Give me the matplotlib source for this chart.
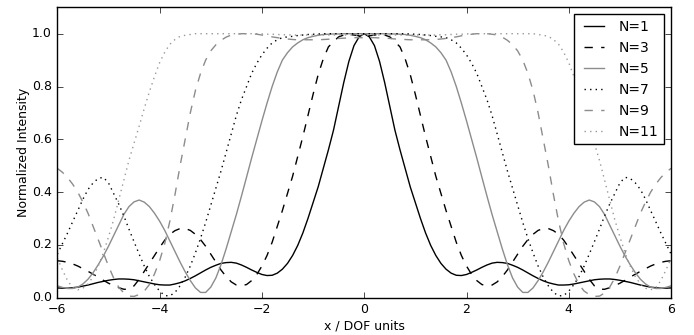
import numpy as np
import matplotlib
matplotlib.use("Agg")
import matplotlib.pyplot as plt

# Half profiles (curves are symmetric about x = 0),
# sampled every 0.1 DOF unit from 0 to 6
x_half = np.linspace(0.0, 6.0, 61)

n1 = [1.0, 0.988, 0.955, 0.895, 0.815, 0.725, 0.635, 0.56, 0.49, 0.42,
      0.36, 0.30, 0.245, 0.198, 0.16, 0.13, 0.108, 0.093, 0.085, 0.084,
      0.088, 0.096, 0.105, 0.115, 0.124, 0.131, 0.134, 0.133, 0.13, 0.123,
      0.115, 0.105, 0.094, 0.083, 0.073, 0.064, 0.057, 0.052, 0.048, 0.048,
      0.049, 0.052, 0.056, 0.06, 0.064, 0.068, 0.07, 0.071, 0.071, 0.069,
      0.066, 0.062, 0.058, 0.053, 0.048, 0.044, 0.04, 0.038, 0.036, 0.036,
      0.037]
n3 = [0.99, 0.992, 0.995, 0.997, 0.995, 0.988, 0.97, 0.95, 0.905, 0.845,
      0.77, 0.69, 0.61, 0.535, 0.46, 0.395, 0.33, 0.27, 0.21, 0.16,
      0.12, 0.088, 0.065, 0.05, 0.045, 0.048, 0.06, 0.08, 0.105, 0.135,
      0.165, 0.195, 0.22, 0.24, 0.255, 0.262, 0.262, 0.254, 0.24, 0.218,
      0.19, 0.16, 0.13, 0.1, 0.07, 0.045, 0.032, 0.032, 0.038, 0.046,
      0.055, 0.066, 0.078, 0.089, 0.1, 0.11, 0.12, 0.128, 0.134, 0.138,
      0.14]
n5 = [1.0, 1.0, 1.0, 1.0, 1.0, 0.999, 0.999, 0.998, 0.997, 0.994,
      0.99, 0.985, 0.977, 0.965, 0.95, 0.928, 0.90, 0.855, 0.80, 0.737,
      0.67, 0.60, 0.53, 0.457, 0.385, 0.315, 0.25, 0.185, 0.125, 0.075,
      0.04, 0.02, 0.02, 0.037, 0.065, 0.098, 0.135, 0.175, 0.215, 0.255,
      0.29, 0.32, 0.345, 0.362, 0.37, 0.363, 0.345, 0.315, 0.275, 0.235,
      0.195, 0.158, 0.125, 0.095, 0.07, 0.052, 0.04, 0.035, 0.035, 0.039,
      0.045]
n7 = [1.0, 1.0, 1.0, 1.0, 1.0, 1.0, 1.0, 1.0, 1.0, 0.999,
      0.998, 0.997, 0.995, 0.993, 0.99, 0.988, 0.985, 0.977, 0.965, 0.945,
      0.92, 0.888, 0.85, 0.80, 0.75, 0.69, 0.62, 0.55, 0.48, 0.415,
      0.35, 0.285, 0.225, 0.17, 0.12, 0.078, 0.045, 0.02, 0.007, 0.008,
      0.025, 0.05, 0.08, 0.12, 0.165, 0.212, 0.26, 0.31, 0.355, 0.395,
      0.435, 0.456, 0.452, 0.435, 0.41, 0.373, 0.33, 0.288, 0.245, 0.205,
      0.165]
n9 = [0.985, 0.985, 0.985, 0.984, 0.983, 0.982, 0.98, 0.979, 0.978, 0.977,
      0.977, 0.977, 0.977, 0.977, 0.978, 0.98, 0.982, 0.985, 0.988, 0.992,
      0.995, 0.998, 1.0, 1.0, 1.0, 0.998, 0.995, 0.987, 0.975, 0.958,
      0.935, 0.90, 0.85, 0.785, 0.70, 0.60, 0.50, 0.39, 0.29, 0.205,
      0.14, 0.09, 0.05, 0.025, 0.012, 0.005, 0.006, 0.018, 0.04, 0.075,
      0.12, 0.17, 0.22, 0.27, 0.32, 0.362, 0.40, 0.43, 0.455, 0.475,
      0.49]
n11 = [0.995, 0.995, 0.995, 0.995, 0.995, 0.995, 0.995, 0.995, 0.995, 0.995,
       0.995, 0.995, 0.995, 0.995, 0.995, 0.996, 0.996, 0.997, 0.998, 0.998,
       0.999, 1.0, 1.0, 1.0, 1.0, 1.0, 1.0, 1.0, 1.0, 1.0,
       1.0, 1.0, 1.0, 1.0, 0.997, 0.994, 0.99, 0.978, 0.96, 0.93,
       0.89, 0.838, 0.78, 0.717, 0.65, 0.585, 0.52, 0.445, 0.37, 0.295,
       0.23, 0.17, 0.12, 0.08, 0.052, 0.036, 0.03, 0.038, 0.065, 0.105,
       0.15]

labels = ["N=1", "N=3", "N=5", "N=7", "N=9", "N=11"]
profiles = [n1, n3, n5, n7, n9, n11]
colors = ["k", "k", "0.55", "k", "0.55", "0.6"]
styles = ["-", "--", "-", ":", "--", ":"]


# mirror a half profile onto negative x
def mirror(x, y):
  y = np.asarray(y)
  return np.concatenate([-x[::-1], x[1:]]), np.concatenate([y[::-1], y[1:]])


plt.style.use("classic")
plt.rcParams["font.size"] = 9
plt.rcParams["figure.facecolor"] = "white"

fig = plt.figure(figsize=(6.94, 3.35), dpi=100)
ax = fig.add_axes([0.0826, 0.1113, 0.8844, 0.8669])

for y, lab, c, ls in zip(profiles, labels, colors, styles):
  xx, yy = mirror(x_half, y)
  ax.plot(xx, yy, color=c, linestyle=ls, linewidth=1.0, label=lab)

ax.set_xlim(-6, 6)
ax.set_ylim(0, 1.1)
ax.set_yticks([0.0, 0.2, 0.4, 0.6, 0.8, 1.0])
ax.set_xlabel("x / DOF units", fontsize=9, labelpad=2)
ax.set_ylabel("Normalized Intensity", fontsize=9, labelpad=1.5)
ax.legend(loc="upper right", fontsize=10)

fig.savefig("out.png", dpi=100, facecolor="white")
